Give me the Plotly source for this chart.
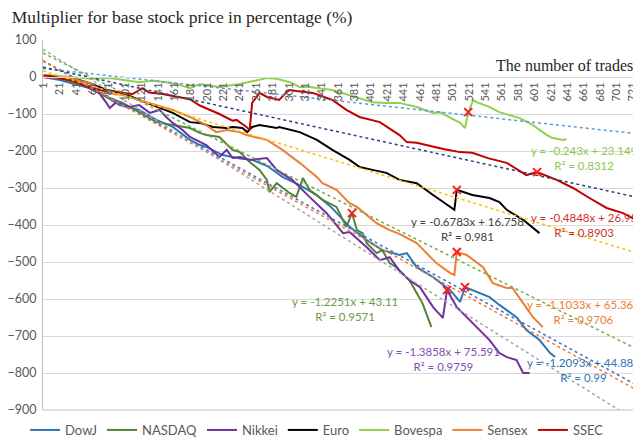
import plotly.graph_objects as go

# ---------------------------------------------------------
# values
# ---------------------------------------------------------

dowj_x = [1, 21, 57, 78, 94, 118, 139, 159, 180, 192, 200, 208, 220, 241, 256, 274, 293, 314,
          335, 354, 375, 396, 415, 436, 445, 457, 477, 498, 510, 516, 530, 546, 558, 579, 591,
          607, 620, 626]
dowj_y = [0, -8, -30, -54, -76, -89, -116, -135, -170, -184, -189, -197, -211, -220, -224, -240,
          -270, -292, -319, -355, -405, -441, -468, -481, -476, -514, -541, -576, -608, -568,
          -581, -595, -616, -649, -684, -711, -746, -757]

nasdaq_x = [1, 21, 57, 78, 98, 118, 139, 159, 180, 192, 200, 216, 232, 241, 253, 265, 274, 277,
            286, 302, 310, 318, 326, 342, 359, 371, 378, 384, 391, 396, 408, 415, 424, 432, 448,
            457, 464, 475]
nasdaq_y = [0, -3, -27, -54, -70, -95, -122, -130, -138, -151, -157, -162, -197, -203, -230,
            -251, -278, -311, -287, -314, -324, -273, -305, -332, -351, -405, -368, -414, -422,
            -449, -476, -468, -503, -514, -549, -584, -611, -676]

nikkei_x = [1, 36, 57, 69, 78, 82, 90, 106, 118, 131, 143, 151, 159, 171, 180, 200, 216, 225,
            232, 241, 253, 274, 286, 305, 326, 347, 367, 375, 396, 412, 424, 436, 448, 461, 469,
            477, 489, 494, 506, 518, 534, 546, 558, 567, 579, 587, 595]
nikkei_y = [0, -8, -30, -43, -70, -84, -68, -81, -76, -97, -89, -108, -124, -143, -162, -184,
            -216, -197, -219, -216, -224, -219, -251, -278, -324, -368, -422, -419, -460, -495,
            -487, -524, -549, -568, -595, -622, -651, -576, -622, -649, -684, -711, -746, -757,
            -765, -800, -800]

euro_x = [1, 21, 36, 57, 78, 98, 118, 139, 159, 180, 192, 208, 225, 232, 244, 250, 256, 265,
          286, 289, 314, 335, 354, 375, 387, 403, 420, 436, 457, 477, 485, 498, 503, 506, 525,
          546, 558, 567, 587, 607]
euro_y = [0, 0, -3, -16, -35, -43, -62, -81, -97, -122, -124, -135, -138, -135, -138, -149,
          -135, -130, -138, -135, -149, -170, -197, -224, -243, -251, -259, -278, -287, -319,
          -332, -351, -359, -305, -319, -327, -338, -359, -386, -422]

bovespa_x = [1, 8, 20, 36, 60, 82, 100, 118, 135, 151, 165, 180, 192, 216, 241, 265, 274, 286,
             302, 314, 326, 354, 387, 403, 420, 436, 457, 477, 485, 498, 510, 516, 520, 526, 530,
             545, 558, 583, 599, 616, 623, 636, 640]
bovespa_y = [0, 5, 3, 0, -5, -3, -8, -14, -10, -14, -20, -30, -19, -27, -19, -8, -3, -5, -14,
             -27, -27, -35, -57, -68, -70, -70, -81, -97, -95, -111, -124, -138, -97, -62, -68,
             -80, -95, -111, -130, -157, -165, -170, -168]

sensex_x = [1, 21, 36, 57, 78, 98, 118, 139, 159, 180, 200, 212, 225, 241, 249, 274, 293, 314,
            335, 342, 359, 375, 384, 408, 424, 436, 457, 481, 498, 503, 506, 518, 538, 550, 567,
            574, 587, 599, 611]
sensex_y = [0, -3, -5, -16, -43, -49, -62, -76, -89, -108, -130, -149, -143, -149, -157, -170,
            -197, -232, -270, -287, -305, -341, -351, -395, -414, -424, -449, -503, -530, -535,
            -473, -481, -514, -557, -570, -570, -611, -649, -676]

ssec_x = [1, 10, 21, 40, 57, 69, 90, 110, 122, 130, 145, 164, 180, 192, 216, 232, 237, 249,
          253, 256, 265, 274, 281, 289, 298, 302, 310, 330, 354, 371, 387, 412, 436, 445, 457,
          477, 491, 510, 525, 545, 567, 591, 604, 628, 648, 668, 689, 709, 730]
ssec_y = [5, 3, -3, -12, -27, -35, -41, -46, -30, -42, -45, -54, -60, -77, -100, -118, -116,
          -135, -143, -70, -43, -54, -57, -62, -41, -35, -38, -43, -62, -89, -108, -122, -157,
          -176, -178, -189, -195, -203, -205, -220, -232, -265, -257, -278, -300, -327, -354,
          -368, -392]

series_names = ["DowJ", "NASDAQ", "Nikkei", "Euro", "Bovespa", "Sensex", "SSEC"]

# linear trendlines printed on the chart
slopes = [-1.2093, -1.2251, -1.3858, -0.6783, -0.243, -1.1033, -0.4848]
intercepts = [44.889, 43.11, 75.591, 16.758, 23.149, 65.362, 26.95]
r2_values = ["0.99", "0.9571", "0.9759", "0.981", "0.8312", "0.9706", "0.8903"]

# red cross marks on the curves
mark_x = [378, 494, 516, 506, 506, 520, 604]
mark_y = [-368, -576, -568, -305, -473, -95, -257]

tick_vals = [1, 21, 41, 61, 81, 101, 121, 141, 161, 181, 201, 221, 241, 261, 281, 301, 321,
             341, 361, 381, 401, 421, 441, 461, 481, 501, 521, 541, 561, 581, 601, 621, 641,
             661, 681, 701, 721]

# ---------------------------------------------------------
# styling
# ---------------------------------------------------------

SERIES_COLORS = ["#2E75B6", "#548235", "#7030A0", "#000000", "#92D050", "#ED7D31", "#C00000"]
TREND_COLORS = ["#4472C4", "#ED7D31", "#A5A5A5", "#FFC000", "#5B9BD5", "#70AD47", "#264478"]
LABEL_COLORS = ["#2E75B6", "#6A9A48", "#7F4FB0", "#404040", "#8CC84B", "#ED7D31", "#D03030"]
# label centres (data coords) for the trendline equations
LABEL_POS = [(661, -791), (369, -626), (490, -761), (519, -411), (661, -220), (661, -634),
             (661, -401)]

SANS = "Lato, 'Open Sans', sans-serif"
SERIF = "'Liberation Serif', 'Times New Roman', serif"
X_END = 731

# the page body adds an 8px offset, so the figure is 8px smaller than the window
FIG_W, FIG_H = 633, 431

xs = [dowj_x, nasdaq_x, nikkei_x, euro_x, bovespa_x, sensex_x, ssec_x]
ys = [dowj_y, nasdaq_y, nikkei_y, euro_y, bovespa_y, sensex_y, ssec_y]

fig = go.Figure()

for name, x, y, color in zip(series_names, xs, ys, SERIES_COLORS):
    fig.add_trace(go.Scatter(
        x=x, y=y, name=name, mode="lines",
        line=dict(color=color, width=2),
    ))

for slope, icpt, color in zip(slopes, intercepts, TREND_COLORS):
    tx = [0.5, X_END]
    fig.add_trace(go.Scatter(
        x=tx, y=[slope * v + icpt for v in tx], mode="lines",
        line=dict(color=color, width=1.5, dash="dot"),
        showlegend=False, hoverinfo="skip",
    ))

fig.add_trace(go.Scatter(
    x=mark_x, y=mark_y, mode="markers", showlegend=False,
    marker=dict(symbol="x-thin", size=8, line=dict(color="#FF1A1A", width=2)),
))

for i, name in enumerate(series_names):
    sign = "-" if slopes[i] < 0 else ""
    text = f"y = {sign}{abs(slopes[i])}x + {intercepts[i]}<br>R² = {r2_values[i]}"
    fig.add_annotation(
        x=LABEL_POS[i][0], y=LABEL_POS[i][1], xref="x", yref="y",
        text=text, showarrow=False, align="center",
        font=dict(family=SANS, size=11.5, color=LABEL_COLORS[i]),
    )

fig.add_annotation(
    x=0.99, y=0.932, xref="paper", yref="paper", xanchor="right", yanchor="middle",
    text="The number of trades", showarrow=False,
    font=dict(family=SERIF, size=16, color="#262626"),
)

# frame line at the bottom of the plot area
fig.add_shape(type="line", xref="paper", yref="paper", x0=0, x1=1, y0=0, y1=0,
              line=dict(color="#BFBFBF", width=1))

fig.update_layout(
    width=FIG_W, height=FIG_H,
    margin=dict(l=35, r=0, t=32, b=29, autoexpand=False),
    paper_bgcolor="white", plot_bgcolor="white",
    title=dict(
        text="Multiplier for base stock price in percentage (%)",
        x=0.006, xanchor="left", y=0.979, yanchor="middle",
        font=dict(family=SERIF, size=17.5, color="#262626"),
    ),
    legend=dict(
        orientation="h", x=-0.03, xanchor="left", y=-0.054, yanchor="middle",
        font=dict(family=SANS, size=13, color="#595959"),
        itemwidth=30, bgcolor="rgba(0,0,0,0)",
    ),
    showlegend=True,
)

fig.update_xaxes(
    range=[0.5, X_END], anchor="free", position=0.9, automargin=False,
    showline=True, linecolor="#D9D9D9", linewidth=1,
    showgrid=False, zeroline=False, ticks="",
    tickmode="array", tickvals=tick_vals, ticktext=[str(v) for v in tick_vals],
    tickangle=-90, tickfont=dict(family=SANS, size=11, color="#595959"),
)

fig.update_yaxes(
    range=[-900, 100], dtick=100, tick0=0, automargin=False,
    showgrid=True, gridcolor="#D9D9D9", gridwidth=1,
    showline=True, linecolor="#BFBFBF", linewidth=1,
    zeroline=False, ticks="", ticklabelstandoff=3,
    tickfont=dict(family=SANS, size=12.5, color="#595959"),
)

fig.write_html("out.html")
